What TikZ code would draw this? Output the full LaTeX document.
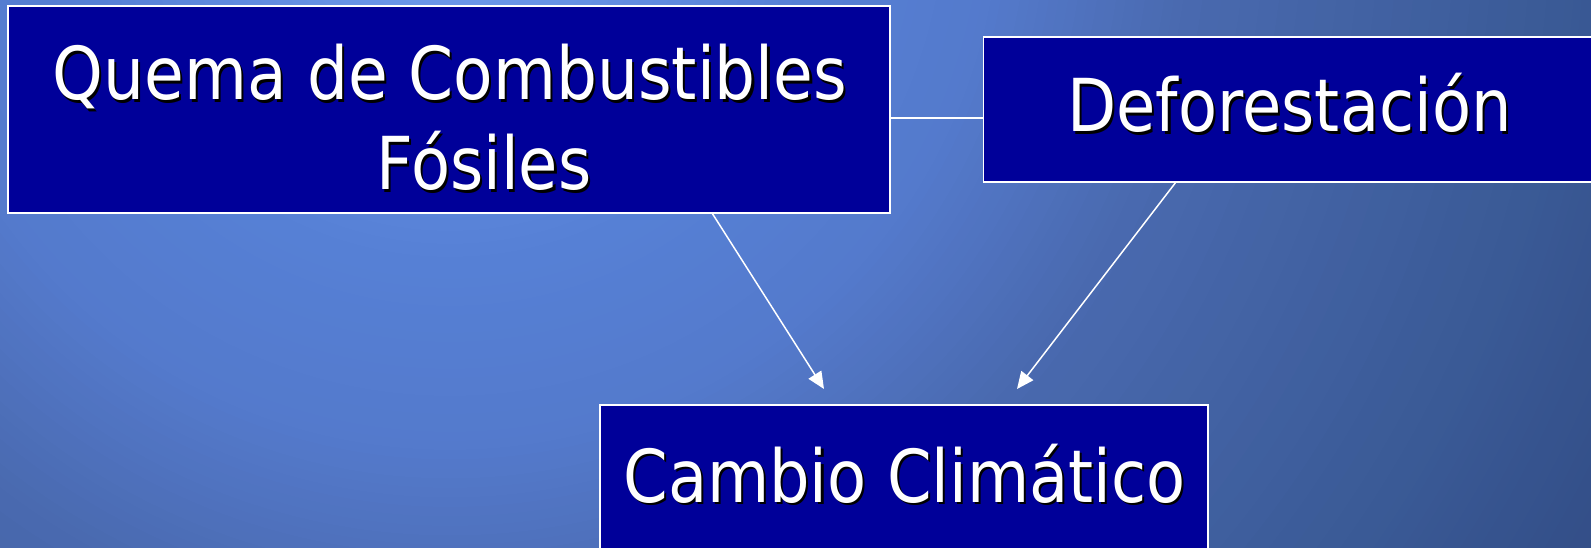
\documentclass[tikz,border=0pt]{standalone}
\usepackage{fontspec}
\setmainfont{DejaVu Sans}
\usetikzlibrary{arrows.meta}
\definecolor{boxblue}{RGB}{0,0,153}
\definecolor{bgA}{RGB}{112,158,240}
\definecolor{bgB}{RGB}{106,150,232}
\definecolor{bgC}{RGB}{86,128,213}
\definecolor{bgD}{RGB}{84,122,204}
\definecolor{bgE}{RGB}{74,106,176}
\definecolor{bgF}{RGB}{58,90,150}
\definecolor{bgG}{RGB}{52,80,138}
\definecolor{bgH}{RGB}{50,76,132}
\newcommand\shtxt[2][0.875]{\scalebox{#1}[1]{\makebox[0pt][l]{\hspace{2.5pt}\raisebox{-2.5pt}{\textcolor{black}{#2}}}#2}}
% ring(outer radius, inner radius, outer colour, inner colour)
\newcommand\bgring[4]{%
  \foreach \k in {0,...,20}{%
    \pgfmathsetmacro\rr{#1-(#1-#2)*\k/20}%
    \pgfmathtruncatemacro\pp{5*\k}%
    \fill[#4!\pp!#3] (450,-100) circle[radius=\rr];
  }%
}
\tikzset{
  boxnode/.style={draw=white, line width=1.6pt, fill=boxblue, inner sep=0pt, outer sep=0pt, rectangle},
  txtnode/.style={text=white, anchor=base, inner sep=0pt, font=\fontsize{73}{88}\selectfont},
  arr/.style={draw=white, line width=1.5pt, -{Triangle[length=17pt,width=15pt]}},
  link/.style={draw=white, line width=1.5pt}
}
\begin{document}
\begin{tikzpicture}[x=1pt,y=-1pt]
\useasboundingbox (0,0) rectangle (1591,548);
\clip (0,0) rectangle (1591,548);
\fill[bgH] (0,0) rectangle (1591,548);
\bgring{1400}{1280}{bgH}{bgG}
\bgring{1280}{1120}{bgG}{bgF}
\bgring{1120}{740}{bgF}{bgE}
\bgring{740}{550}{bgE}{bgD}
\bgring{550}{370}{bgD}{bgC}
\bgring{370}{110}{bgC}{bgB}
\bgring{110}{1}{bgB}{bgA}
% boxes
\node[boxnode, minimum width=882pt, minimum height=207pt] (q) at (449,109.5) {};
\node[boxnode, minimum width=612.5pt, minimum height=145pt] (d) at (1289.75,109.5) {};
\node[boxnode, minimum width=608pt, minimum height=250pt] (c) at (904,530) {};
% texts
\node[txtnode] (q1) at (450,100) {\shtxt[0.885]{Quema de Combustibles}};
\node[txtnode] (q2) at (484,190) {\shtxt{Fósiles}};
\node[txtnode] (d1) at (1289.5,132) {\shtxt{Deforestación}};
\node[txtnode] (c1) at (904.5,502) {\shtxt{Cambio Climático}};
% connectors
\coordinate (t1) at (824,389);
\coordinate (t2) at (1017,389);
\draw[link] ([yshift=-8.5pt]q.east) -- ([yshift=-8.5pt]d.west);
\draw[arr] ([xshift=263pt]q.south) -- (t1);
\draw[arr] ([xshift=-113.75pt]d.south) -- (t2);
\end{tikzpicture}
\end{document}
